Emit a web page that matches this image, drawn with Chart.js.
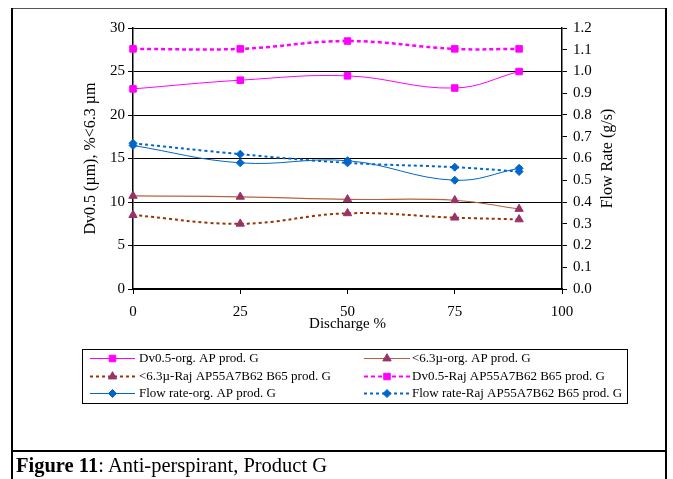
<!DOCTYPE html>
<html>
<head>
<meta charset="utf-8">
<script src="https://cdn.jsdelivr.net/npm/chart.js"></script>
<style>
  html, body { margin: 0; padding: 0; background: #fff; }
  #wrap { position: relative; width: 673px; height: 479px; overflow: hidden; }
  #c { position: absolute; left: 0; top: 0; }
  .ln { position: absolute; background: #000; pointer-events: none; }
  #cap { position: absolute; left: 16px; top: 452px; font-family: "Liberation Serif", "Times New Roman", serif; font-size: 20.5px; line-height: 26px; color: #000; white-space: nowrap; }
</style>
</head>
<body>
<div id="wrap">
  <canvas id="c" width="673" height="479"></canvas>
  <div class="ln" style="left:12px;top:8px;width:655px;height:1px;background:#555;"></div>
  <div class="ln" style="left:11px;top:8px;width:2px;height:471px;"></div>
  <div class="ln" style="left:665px;top:8px;width:2px;height:471px;"></div>
  <div class="ln" style="left:11px;top:450px;width:656px;height:2px;"></div>
  <div id="cap"><b>Figure 11</b>: Anti-perspirant, Product G</div>
</div>
<script>
// ---- data ----
const dischargeValues = [0, 25, 50, 75, 90];
const dvOrg   = [23.0, 24.0, 24.5, 23.1, 25.0];
const lt63Org = [10.7, 10.6, 10.3, 10.2, 9.2];
const lt63Raj = [8.5, 7.5, 8.7, 8.2, 8.0];
const dvRaj   = [27.6, 27.6, 28.5, 27.6, 27.6];
const flowOrg = [0.66, 0.58, 0.59, 0.50, 0.555];
const flowRaj = [0.67, 0.62, 0.58, 0.56, 0.54];

const xTickValues  = [0, 25, 50, 75, 100];
const yTickValues  = [0, 5, 10, 15, 20, 25, 30];
const y1TickValues = [0, 0.1, 0.2, 0.3, 0.4, 0.5, 0.6, 0.7, 0.8, 0.9, 1.0, 1.1, 1.2];

const seriesNames = [
  'Dv0.5-org. AP prod. G',
  '<6.3\u00b5-org. AP prod. G',
  '<6.3\u00b5-Raj AP55A7B62 B65 prod. G',
  'Dv0.5-Raj AP55A7B62 B65 prod. G',
  'Flow rate-org. AP prod. G',
  'Flow rate-Raj AP55A7B62 B65 prod. G'
];

const pts = arr => arr.map((v, i) => ({ x: dischargeValues[i], y: v }));
const SERIF = '"Liberation Serif", "Times New Roman", serif';

const datasets = [
  { label: seriesNames[0], data: pts(dvOrg), yAxisID: 'y', borderColor: '#FF00FF', borderWidth: 1,
    pointStyle: 'rect', pointRadius: 4.6, pointBackgroundColor: '#FF00FF', pointBorderColor: '#FF00FF', borderDash: [] },
  { label: seriesNames[1], data: pts(lt63Org), yAxisID: 'y', borderColor: '#B4643C', borderWidth: 1.2,
    pointStyle: 'triangle', pointRadius: 4.8, pointBackgroundColor: '#993366', pointBorderColor: '#993366', borderDash: [] },
  { label: seriesNames[2], data: pts(lt63Raj), yAxisID: 'y', borderColor: '#993300', borderWidth: 2,
    pointStyle: 'triangle', pointRadius: 4.8, pointBackgroundColor: '#993366', pointBorderColor: '#993366', borderDash: [3, 3] },
  { label: seriesNames[3], data: pts(dvRaj), yAxisID: 'y', borderColor: '#FF00FF', borderWidth: 2.5,
    pointStyle: 'rect', pointRadius: 4.6, pointBackgroundColor: '#FF00FF', pointBorderColor: '#FF00FF', borderDash: [4, 3] },
  { label: seriesNames[4], data: pts(flowOrg), yAxisID: 'y1', borderColor: '#0066CC', borderWidth: 1,
    pointStyle: 'rectRot', pointRadius: 4, pointBackgroundColor: '#0066CC', pointBorderColor: '#0066CC', borderDash: [] },
  { label: seriesNames[5], data: pts(flowRaj), yAxisID: 'y1', borderColor: '#0066CC', borderWidth: 2,
    pointStyle: 'rectRot', pointRadius: 4, pointBackgroundColor: '#0066CC', pointBorderColor: '#0066CC', borderDash: [3, 3] }
].map(d => Object.assign(d, { tension: 0.4, fill: false, clip: false, pointBorderWidth: 1 }));

function drawMarker(ctx, style, x, y, r, color) {
  ctx.save();
  ctx.fillStyle = color; ctx.strokeStyle = color; ctx.lineWidth = 1; ctx.setLineDash([]);
  ctx.beginPath();
  if (style === 'rect') {
    const s = Math.SQRT1_2 * r;
    ctx.rect(x - s, y - s, 2 * s, 2 * s);
  } else if (style === 'rectRot') {
    ctx.moveTo(x, y - r); ctx.lineTo(x + r, y); ctx.lineTo(x, y + r); ctx.lineTo(x - r, y); ctx.closePath();
  } else if (style === 'triangle') {
    for (let k = 0; k < 3; k++) {
      const a = -Math.PI / 2 + k * 2 * Math.PI / 3;
      const px = x + Math.cos(a) * r, py = y + Math.sin(a) * r;
      if (k === 0) ctx.moveTo(px, py); else ctx.lineTo(px, py);
    }
    ctx.closePath();
  }
  ctx.fill(); ctx.stroke();
  ctx.restore();
}

const legendPlugin = {
  id: 'customLegend',
  afterDraw(chart) {
    const ctx = chart.ctx;
    ctx.save();
    ctx.strokeStyle = '#000'; ctx.lineWidth = 1; ctx.setLineDash([]);
    ctx.strokeRect(82.5, 349.5, 545, 54);
    const rows = [358, 376, 393];
    const cols = [{ x0: 90, x1: 135, tx: 139 }, { x0: 364, x1: 410, tx: 412 }];
    ctx.font = '13px ' + SERIF;
    ctx.fillStyle = '#000';
    ctx.textBaseline = 'middle';
    ctx.textAlign = 'left';
    chart.data.datasets.forEach((ds, i) => {
      const c = cols[i % 2], y = rows[Math.floor(i / 2)];
      ctx.save();
      ctx.strokeStyle = ds.borderColor;
      ctx.lineWidth = Math.min(ds.borderWidth, 2);
      ctx.setLineDash(ds.borderDash || []);
      ctx.beginPath(); ctx.moveTo(c.x0, y + 0.5); ctx.lineTo(c.x1, y + 0.5); ctx.stroke();
      ctx.restore();
      drawMarker(ctx, ds.pointStyle, (c.x0 + c.x1) / 2, y + 0.5, ds.pointRadius, ds.pointBackgroundColor);
      ctx.fillStyle = '#000';
      ctx.fillText(ds.label, c.tx, y + 1);
    });
    const a = chart.chartArea;
    ctx.save();
    ctx.translate(608, (a.top + a.bottom) / 2);
    ctx.rotate(-Math.PI / 2);
    ctx.font = '16px ' + SERIF;
    ctx.textAlign = 'center';
    ctx.textBaseline = 'middle';
    ctx.fillStyle = '#000';
    ctx.fillText('Flow Rate (g/s)', 0, 0);
    ctx.restore();
    ctx.restore();
  }
};

const tickFont = { family: SERIF, size: 15 };

new Chart(document.getElementById('c'), {
  type: 'line',
  data: { datasets },
  plugins: [legendPlugin],
  options: {
    responsive: false,
    animation: false,
    devicePixelRatio: 1,
    layout: { padding: { left: 12, right: 12, top: 28, bottom: 140 } },
    plugins: { legend: { display: false }, tooltip: { enabled: false } },
    scales: {
      x: {
        type: 'linear', min: 0, max: 100,
        afterBuildTicks: s => { s.ticks = xTickValues.map(v => ({ value: v })); },
        afterFit: s => { s.height = 50; },
        grid: { drawOnChartArea: false, tickLength: 5, color: '#000', tickColor: '#000' },
        border: { color: '#000', width: 1.5 },
        ticks: { font: tickFont, color: '#000', padding: 9, maxRotation: 0 },
        title: { display: true, text: 'Discharge %', font: { family: SERIF, size: 15 }, color: '#000', padding: { top: 0, bottom: 6 } }
      },
      y: {
        type: 'linear', position: 'left', min: 0, max: 30,
        afterBuildTicks: s => { s.ticks = yTickValues.map(v => ({ value: v })); },
        afterFit: s => { s.width = 121; },
        grid: { color: '#000', lineWidth: 1, tickLength: 5, tickColor: '#000' },
        border: { color: '#000', width: 1.5 },
        ticks: { font: tickFont, color: '#000', padding: 3 },
        title: { display: true, text: 'Dv0.5 (\u00b5m), %<6.3 \u00b5m', font: { family: SERIF, size: 16 }, color: '#000', padding: { top: 69, bottom: 0 } }
      },
      y1: {
        type: 'linear', position: 'right', min: 0, max: 1.2,
        afterBuildTicks: s => { s.ticks = y1TickValues.map(v => ({ value: v })); },
        afterFit: s => { s.width = 99; },
        grid: { drawOnChartArea: false, tickLength: 5, color: '#000', tickColor: '#000' },
        border: { color: '#000', width: 1.5 },
        ticks: { font: tickFont, color: '#000', padding: 6, callback: v => Number(v).toFixed(1) }
      }
    }
  }
});
</script>
</body>
</html>
